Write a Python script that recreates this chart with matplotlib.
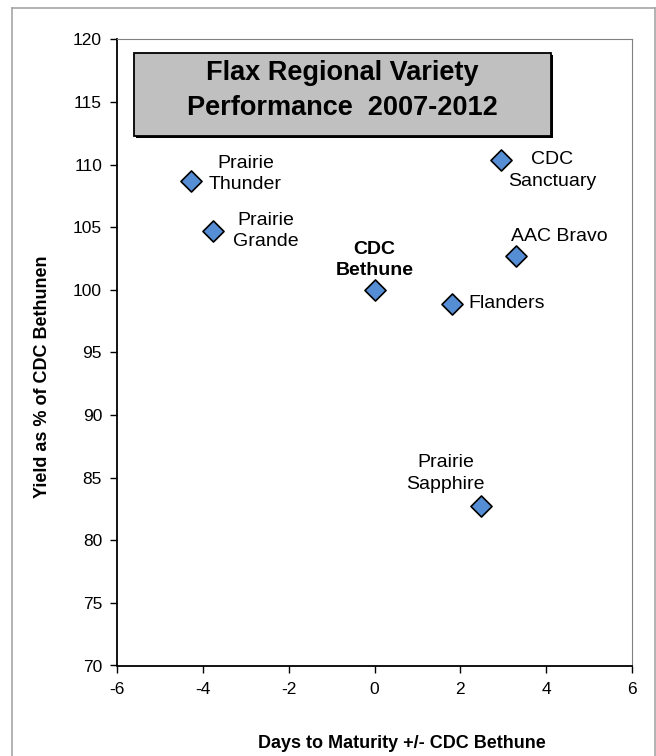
import matplotlib.pyplot as plt
from matplotlib.patches import Rectangle
from matplotlib.lines import Line2D

plt.rcParams['font.family'] = ['Liberation Sans', 'DejaVu Sans']
plt.rcParams['axes.unicode_minus'] = False

# data
varieties = ["Prairie\nThunder", "Prairie\nGrande", "CDC\nBethune", "CDC\nSanctuary",
             "AAC Bravo", "Flanders", "Prairie\nSapphire"]
days = [-4.29, -3.77, 0.0, 2.95, 3.29, 1.80, 2.48]
yield_pct = [108.7, 104.7, 100.0, 110.4, 102.7, 98.9, 82.7]

# label offsets in pixels (dx, dy) and alignment
offsets = [(55, 7), (53, 0), (0, 30), (51, -11), (44, 19), (17, 0), (-35, 33)]
aligns = ["center", "center", "center", "center", "center", "left", "center"]
bold = [False, False, True, False, False, False, False]

W, H = 656, 756
fig = plt.figure(figsize=(W / 100, H / 100), dpi=100)

# outer chart border (cut off at the bottom)
border_col = "#A6A6A6"
fig.add_artist(Line2D([12.3 / W, 12.3 / W], [0, 1 - 8.3 / H], color=border_col, lw=1.2))
fig.add_artist(Line2D([12.3 / W, 655 / W], [1 - 8.3 / H, 1 - 8.3 / H], color=border_col, lw=1.2))
fig.add_artist(Line2D([655 / W, 655 / W], [0, 1 - 8.3 / H], color=border_col, lw=1.2))

ax = fig.add_axes([117.3 / W, 1 - 665.5 / H, (631.7 - 117.3) / W, (665.5 - 39.3) / H])

ax.scatter(days, yield_pct, marker="D", s=115, color="#558ED5", edgecolor="black",
           linewidth=1.2, zorder=3)

for name, x, y, off, ha, b in zip(varieties, days, yield_pct, offsets, aligns, bold):
    ax.annotate(name, (x, y), xytext=off, textcoords="offset pixels",
                ha=ha, va="center", multialignment="center", fontsize=14,
                fontweight="bold" if b else "normal", linespacing=1.32)

ax.set_xlim(-6, 6)
ax.set_ylim(70, 120)
ax.set_xticks(range(-6, 7, 2))
ax.set_yticks(range(70, 121, 5))
ax.tick_params(direction="out", length=5, width=1, labelsize=12.5, pad=6)
ax.tick_params(axis="x", pad=7)
ax.spines["top"].set_color("#808080")
ax.spines["right"].set_color("#808080")
for s in ["left", "bottom"]:
    ax.spines[s].set_linewidth(1.3)

# axis titles
fig.text(402 / W, 1 - 743 / H, "Days to Maturity +/- CDC Bethune",
         ha="center", va="center", fontsize=13, fontweight="bold")
fig.text(43 / W, 1 - 376.5 / H, "Yield as % of CDC Bethunen", rotation=90,
         ha="center", va="center", fontsize=13, fontweight="bold")

# title box with shadow
bx0, bx1 = 134.3 / W, 551 / W
by0, by1 = 1 - 135.5 / H, 1 - 53.3 / H
fig.add_artist(Rectangle((bx0 + 2 / W, by0 - 2 / H), bx1 - bx0, by1 - by0,
                         transform=fig.transFigure, facecolor="black", edgecolor="none"))
fig.add_artist(Rectangle((bx0, by0), bx1 - bx0, by1 - by0, transform=fig.transFigure,
                         facecolor="#C0C0C0", edgecolor="black", linewidth=1.3))
fig.text((bx0 + bx1) / 2, 1 - 90.5 / H, "Flax Regional Variety\nPerformance  2007-2012",
         ha="center", va="center", fontsize=19.5, fontweight="bold", linespacing=1.45)

fig.savefig("out.png", dpi=100)
